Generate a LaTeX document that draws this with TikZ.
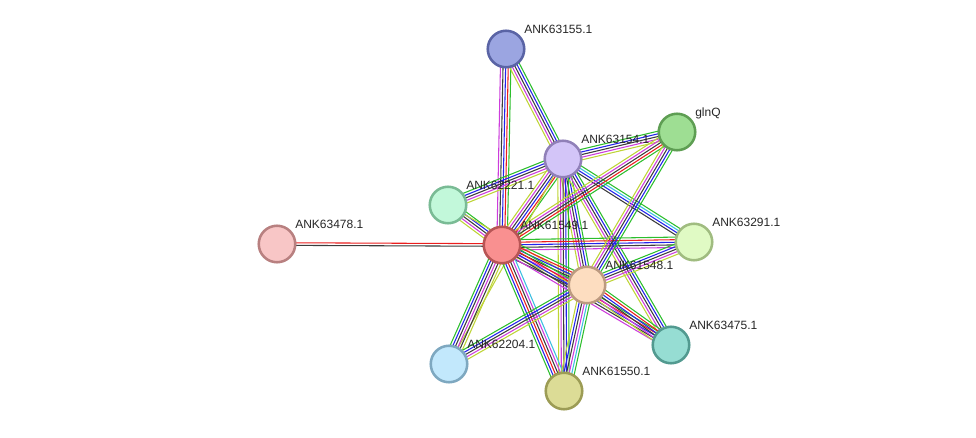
\documentclass[tikz,border=0pt]{standalone}
\usepackage{fontspec}
\setmainfont{Liberation Sans}
\usetikzlibrary{calc}
\pgfdeclarelayer{bg}
\pgfsetlayers{bg,main}
\definecolor{sg}{RGB}{45,190,45}
\definecolor{sr}{RGB}{235,30,30}
\definecolor{sb}{RGB}{35,35,235}
\definecolor{sk}{RGB}{60,60,60}
\definecolor{sm}{RGB}{205,60,220}
\definecolor{sy}{RGB}{190,212,55}
\definecolor{sc}{RGB}{60,190,225}
\newcommand\bund[4]{%
  \foreach \c [count=\i] in {#4}{%
    \pgfmathsetmacro\off{(\i-(#3+1)/2)*1.95}%
    \draw[\c, line width=0.8pt] ($(#1)!\off pt!-90:(#2)$) -- ($(#2)!\off pt!90:(#1)$);
  }}
\begin{document}
\begin{tikzpicture}[x=0.75pt,y=-0.75pt,
  prot/.style={circle, inner sep=0pt, minimum size=27.4pt, line width=1.9pt},
  lab/.style={anchor=base west, inner sep=0pt, font=\fontsize{9}{10}\selectfont, text=black!85}]
\useasboundingbox (0,0) rectangle (976,437);
% nodes
\node[prot, fill={rgb,255:red,155;green,165;blue,225}, draw={rgb,255:red,90;green,100;blue,165}] (A) at (506,49) {};
\node[prot, fill={rgb,255:red,158;green,222;blue,147}, draw={rgb,255:red,94;green,158;blue,83}] (G) at (677,132) {};
\node[prot, fill={rgb,255:red,211;green,197;blue,248}, draw={rgb,255:red,144;green,128;blue,184}] (B) at (563,159) {};
\node[prot, fill={rgb,255:red,194;green,248;blue,218}, draw={rgb,255:red,122;green,187;blue,149}] (C) at (448,205) {};
\node[prot, fill={rgb,255:red,248;green,198;blue,198}, draw={rgb,255:red,184;green,128;blue,128}] (H) at (277,244) {};
\node[prot, fill={rgb,255:red,249;green,144;blue,144}, draw={rgb,255:red,184;green,85;blue,85}] (P) at (502,245) {};
\node[prot, fill={rgb,255:red,224;green,250;blue,196}, draw={rgb,255:red,160;green,188;blue,128}] (R) at (694,242) {};
\node[prot, fill={rgb,255:red,253;green,221;blue,192}, draw={rgb,255:red,188;green,154;blue,128}] (Q) at (587,285) {};
\node[prot, fill={rgb,255:red,150;green,221;blue,211}, draw={rgb,255:red,82;green,154;blue,144}] (T) at (671,345) {};
\node[prot, fill={rgb,255:red,194;green,232;blue,252}, draw={rgb,255:red,126;green,168;blue,192}] (D) at (449,364) {};
\node[prot, fill={rgb,255:red,220;green,220;blue,150}, draw={rgb,255:red,156;green,156;blue,85}] (E) at (564,391) {};
% edges
\begin{pgfonlayer}{bg}
\bund{H}{P}{2}{sr,sk}
\bund{A}{P}{5}{sg,sr,sb,sk,sm}
\bund{A}{B}{5}{sg,sb,sk,sm,sy}
\bund{B}{G}{5}{sg,sb,sk,sm,sy}
\bund{C}{B}{5}{sg,sb,sk,sm,sy}
\bund{B}{P}{6}{sg,sr,sb,sk,sm,sy}
\bund{B}{R}{4}{sg,sc,sb,sk}
\bund{B}{Q}{5}{sg,sb,sk,sm,sy}
\bund{B}{T}{5}{sg,sb,sk,sm,sy}
\bund{B}{E}{5}{sg,sb,sk,sm,sy}
\bund{D}{B}{1}{sy}
\bund{C}{P}{5}{sg,sb,sk,sm,sy}
\bund{C}{Q}{1}{sy}
\bund{P}{R}{5}{sg,sr,sb,sk,sm}
\bund{P}{Q}{7}{sg,sr,sb,sk,sm,sy,sk}
\bund{P}{T}{5}{sg,sr,sb,sk,sm}
\bund{D}{P}{6}{sg,sb,sk,sm,sk,sy}
\bund{P}{E}{6}{sc,sm,sk,sr,sb,sg}
\bund{G}{P}{5}{sg,sr,sk,sm,sy}
\bund{G}{Q}{5}{sg,sb,sk,sm,sy}
\bund{Q}{R}{5}{sg,sb,sk,sm,sy}
\bund{Q}{T}{6}{sg,sr,sb,sk,sm,sy}
\bund{Q}{E}{6}{sg,sc,sm,sk,sb,sy}
\bund{D}{Q}{5}{sg,sb,sk,sm,sy}
\end{pgfonlayer}
% labels
\node[lab] (lA) at ($(A)+(18,-16)$) {ANK63155.1};
\node[lab] (lG) at ($(G)+(18,-16)$) {glnQ};
\node[lab] (lB) at ($(B)+(18,-16)$) {ANK63154.1};
\node[lab] (lC) at ($(C)+(18,-16)$) {ANK62221.1};
\node[lab] (lH) at ($(H)+(18,-16)$) {ANK63478.1};
\node[lab] (lP) at ($(P)+(18,-16)$) {ANK61549.1};
\node[lab] (lR) at ($(R)+(18,-16)$) {ANK63291.1};
\node[lab] (lQ) at ($(Q)+(18,-16)$) {ANK61548.1};
\node[lab] (lT) at ($(T)+(18,-16)$) {ANK63475.1};
\node[lab] (lD) at ($(D)+(18,-16)$) {ANK62204.1};
\node[lab] (lE) at ($(E)+(18,-16)$) {ANK61550.1};
\end{tikzpicture}
\end{document}
